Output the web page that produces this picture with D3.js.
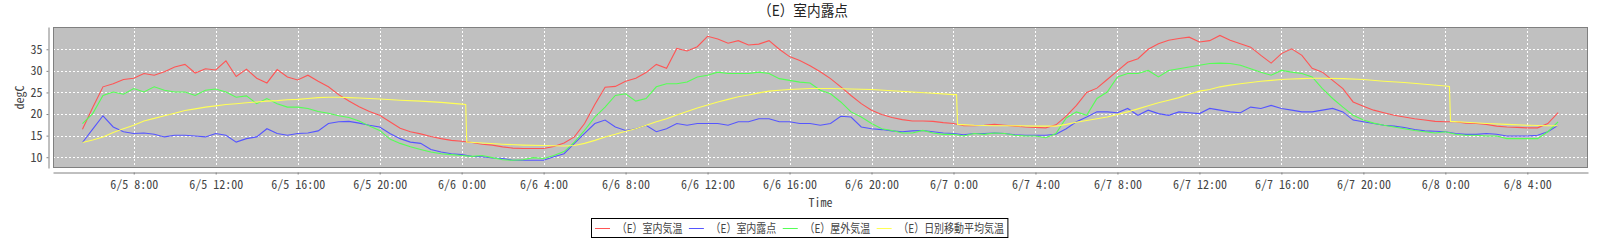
<!DOCTYPE html>
<html lang="ja">
  <head>
    <meta charset="utf-8">
    <title>（E）室内露点</title>
    <style>
      body { margin: 0; background: #fff; }
      .mono { font-family: "Noto Sans Mono CJK JP", "Noto Sans CJK JP", "DejaVu Sans Mono", monospace; }
      .jp { font-family: "Noto Sans CJK JP", sans-serif; }
    </style>
  </head>
  <body>

<!-- load the d3.js library -->
<script src="https://cdn.jsdelivr.net/npm/d3@7"></script>

<script>
// half-hour readings, hours counted from 6/5 0:00 (5.5 = 6/5 5:30 ... 77.5 = 6/8 5:30)
var startHour = 5.5, stepHour = 0.5;

// （E）室内気温
var indoorTemp = [
  16.5, 21.5, 26.3, 27.0, 28.0, 28.3, 29.4, 29.0, 29.8, 30.9, 31.5, 29.5,
  30.5, 30.2, 32.3, 28.7, 30.4, 28.3, 27.2, 30.3, 28.6, 27.9, 29.0, 27.6,
  26.3, 24.5, 23.0, 21.7, 20.6, 19.7, 18.2, 16.7, 15.9, 15.4, 14.8, 14.3,
  13.9, 13.7, 13.4, 13.0, 12.8, 12.4, 12.1, 12.0, 12.0, 12.0, 12.5, 13.3,
  14.7, 17.8, 22.2, 26.2, 26.4, 27.6, 28.3, 29.6, 31.5, 30.6, 35.2, 34.6,
  35.6, 38.0, 37.4, 36.4, 37.0, 36.0, 36.2, 37.0, 35.0, 33.3, 32.4, 31.2,
  29.8, 28.2, 26.3, 24.3, 22.4, 20.9, 19.9, 19.2, 18.7, 18.4, 18.4, 18.3,
  18.0, 17.8, 17.3, 17.3, 17.4, 17.6, 17.4, 17.2, 17.0, 16.9, 16.8, 17.5,
  19.5, 22.0, 25.0, 26.0, 28.0, 30.0, 32.0, 32.8, 35.0, 36.3, 37.1, 37.5,
  37.8, 36.7, 37.0, 38.2, 37.1, 36.3, 35.5, 33.6, 31.8, 34.0, 35.1, 33.6,
  30.6, 29.7, 27.8, 25.9, 22.8, 21.8, 20.9, 20.3, 19.7, 19.3, 18.9, 18.6,
  18.3, 18.2, 18.2, 17.9, 17.8, 17.6, 17.2, 17.0, 16.9, 16.8, 16.8, 17.8,
  20.3
];

// （E）室内露点
var indoorDew = [
  13.4, 16.5, 19.6, 17.0, 15.9, 15.5, 15.6, 15.3, 14.7, 15.1, 15.1, 14.9,
  14.7, 15.5, 15.1, 13.5, 14.3, 14.7, 16.6, 15.5, 15.1, 15.5, 15.6, 16.1,
  17.8, 18.2, 18.3, 17.9, 17.4, 17.0, 15.5, 14.3, 13.5, 13.2, 11.8, 11.2,
  10.8, 10.6, 10.2, 10.1, 9.8, 9.7, 9.3, 9.3, 9.3, 9.3, 10.1, 10.8,
  13.2, 15.5, 17.8, 18.6, 17.0, 16.2, 16.6, 17.4, 15.9, 16.6, 17.8, 17.4,
  17.8, 17.8, 17.8, 17.4, 18.2, 18.2, 18.9, 18.9, 18.2, 18.2, 17.8, 17.8,
  17.4, 17.8, 19.5, 19.3, 17.0, 16.6, 16.4, 16.1, 15.9, 16.1, 16.2, 15.9,
  15.6, 15.5, 15.2, 15.5, 15.5, 15.6, 15.5, 15.2, 15.1, 15.1, 15.1, 15.3,
  16.6, 18.2, 19.3, 20.5, 20.5, 20.3, 21.3, 19.7, 20.9, 20.1, 19.7, 20.5,
  20.3, 20.1, 21.3, 20.9, 20.5, 20.3, 21.6, 21.3, 22.0, 21.3, 20.9, 20.5,
  20.5, 20.9, 21.3, 20.5, 18.6, 18.2, 17.8, 17.4, 17.2, 16.9, 16.4, 16.1,
  16.0, 15.9, 15.5, 15.3, 15.3, 15.5, 15.3, 14.9, 14.9, 14.9, 15.1, 15.9,
  17.4
];

// （E）屋外気温
var outdoorTemp = [
  17.8, 20.1, 24.3, 25.1, 24.6, 25.9, 25.1, 26.3, 25.5, 25.1, 25.1, 24.3,
  25.5, 25.8, 25.1, 23.9, 24.2, 22.4, 23.6, 22.4, 21.6, 21.6, 21.3, 20.6,
  20.2, 19.6, 19.2, 18.4, 17.2, 16.2, 14.2, 13.2, 12.4, 11.8, 11.2, 10.8,
  10.6, 10.4, 10.2, 10.4, 9.9, 9.4, 9.3, 9.4, 9.9, 9.7, 10.4, 11.3,
  13.5, 16.2, 19.3, 21.6, 24.3, 24.7, 23.0, 23.6, 26.3, 27.0, 27.0, 27.4,
  28.6, 29.0, 29.7, 29.4, 29.4, 29.4, 29.7, 29.4, 28.2, 27.8, 27.4, 27.2,
  25.5, 24.7, 22.8, 20.5, 19.3, 17.8, 16.6, 16.2, 15.6, 15.6, 16.2, 15.6,
  15.3, 15.3, 14.9, 15.5, 15.3, 15.6, 15.5, 15.1, 14.9, 14.9, 14.5, 15.5,
  19.1, 20.5, 19.7, 23.6, 25.1, 28.6, 29.4, 29.4, 30.1, 28.6, 30.1, 30.5,
  30.9, 31.3, 31.7, 31.8, 31.7, 31.3, 30.5, 29.7, 29.0, 30.1, 29.7, 29.4,
  28.6, 25.9, 23.6, 21.6, 19.7, 18.6, 17.9, 17.4, 17.0, 16.6, 16.2, 15.9,
  15.6, 15.9, 15.3, 15.1, 15.1, 14.9, 14.9, 14.3, 14.3, 14.3, 14.3, 15.9,
  18.2
];

// （E）日別移動平均気温 (resets just after midnight, so it has its own hours)
var dailyAvgHours = [
  5.5, 6, 6.5, 7, 7.5, 8, 8.5, 9, 9.5, 10, 10.5, 11, 11.5, 12, 12.5, 13, 13.5, 14, 14.5, 15, 15.5, 16, 16.5, 17, 17.5, 18, 18.5, 19, 20, 21, 22, 23, 24, 24.2,
  24.25, 25, 26, 27, 28, 29, 29.5, 30, 30.5, 31, 31.5, 32, 32.5, 33, 33.5, 34, 34.5, 35, 35.5, 36, 36.5, 37, 37.5, 38, 38.5, 39, 39.5, 40, 40.5, 41, 42, 43, 44, 45, 46, 47, 48, 48.15,
  48.2, 49, 50, 51, 52, 53, 53.5, 54, 54.5, 55, 55.5, 56, 56.5, 57, 57.5, 58, 58.5, 59, 59.5, 60, 60.5, 61, 61.5, 62, 62.5, 63, 63.5, 64, 64.5, 65, 65.5, 66, 67, 68, 69, 70, 71, 72, 72.2,
  72.25, 73, 74, 75, 76, 77, 77.5
];
var dailyAvg = [
  13.4, 14.0, 14.7, 15.7, 16.6, 17.4, 18.4, 19.0, 19.6, 20.2, 20.8, 21.2, 21.6, 21.9, 22.2, 22.4, 22.6, 22.8, 23.0, 23.1, 23.3, 23.4, 23.6, 23.8, 23.9, 23.9, 23.8, 23.7, 23.5, 23.2, 23.0, 22.7, 22.3, 22.2,
  13.5, 13.3, 13.0, 12.8, 12.7, 12.6, 12.7, 13.2, 13.9, 14.7, 15.3, 16.0, 16.6, 17.4, 18.2, 18.9, 19.8, 20.6, 21.4, 22.1, 22.8, 23.4, 24.0, 24.4, 24.9, 25.3, 25.5, 25.7, 25.8, 25.9, 25.9, 25.8, 25.7, 25.4, 25.1, 24.8, 24.5, 24.5,
  17.6, 17.4, 17.3, 17.3, 17.2, 17.2, 17.6, 18.1, 18.5, 18.9, 19.3, 19.9, 20.5, 21.2, 21.9, 22.6, 23.2, 23.8, 24.6, 25.3, 25.7, 26.3, 26.7, 27.0, 27.3, 27.6, 27.8, 28.0, 28.1, 28.2, 28.3, 28.3, 28.2, 28.0, 27.6, 27.3, 26.9, 26.5, 26.4,
  18.3, 18.1, 17.8, 17.6, 17.4, 17.3, 17.3
];

var seriesNames = ["（E）室内気温", "（E）室内露点", "（E）屋外気温", "（E）日別移動平均気温"];
var seriesColors = ["#ff5555", "#5555ff", "#55ff55", "#ffff55"];
var yTicks = [10, 15, 20, 25, 30, 35];

var base = new Date(2019, 5, 5, 0, 0);
function hourToDate(h) { return new Date(base.getTime() + h * 3600 * 1000); }

function toPoints(values) {
  return values.map((v, i) => ({ t: hourToDate(startHour + i * stepHour), v: v }));
}

var series = [
  toPoints(indoorTemp),
  toPoints(indoorDew),
  toPoints(outdoorTemp),
  dailyAvg.map((v, i) => ({ t: hourToDate(dailyAvgHours[i]), v: v }))
];

// plot area
var W = 1600, H = 240;
var plot = { left: 53, right: 1588, top: 27, bottom: 168 };

var svg = d3.select('body').append('svg')
  .attr('width', W)
  .attr('height', H);

var x = d3.scaleTime()
  .domain([hourToDate(4.062), hourToDate(78.96)])
  .range([plot.left, plot.right]);

var y = d3.scaleLinear()
  .domain([7.5, 40.16])
  .range([plot.bottom, plot.top]);

// title
svg.append('text')
  .attr('class', 'jp')
  .attr('x', 803)
  .attr('y', 16)
  .attr('text-anchor', 'middle')
  .style('font-size', '15px')
  .attr('fill', '#222')
  .attr('textLength', 90)
  .attr('lengthAdjust', 'spacingAndGlyphs')
  .text("（E）室内露点");

// background
svg.append('rect')
  .attr('x', plot.left)
  .attr('y', plot.top)
  .attr('width', plot.right - plot.left)
  .attr('height', plot.bottom - plot.top)
  .attr('fill', '#c0c0c0');

// grid lines
var xTicks = x.ticks(d3.timeHour.every(4));
svg.append('g').selectAll('line')
  .data(xTicks)
  .enter().append('line')
    .attr('x1', d => Math.round(x(d)) + 0.5)
    .attr('x2', d => Math.round(x(d)) + 0.5)
    .attr('y1', plot.top)
    .attr('y2', plot.bottom)
    .attr('stroke', '#fff')
    .attr('stroke-dasharray', '2,2');

svg.append('g').selectAll('line')
  .data(yTicks)
  .enter().append('line')
    .attr('x1', plot.left)
    .attr('x2', plot.right)
    .attr('y1', d => Math.round(y(d)) + 0.5)
    .attr('y2', d => Math.round(y(d)) + 0.5)
    .attr('stroke', '#fff')
    .attr('stroke-dasharray', '2,2');

// series lines
svg.append('clipPath').attr('id', 'clip')
  .append('rect')
    .attr('x', plot.left)
    .attr('y', plot.top)
    .attr('width', plot.right - plot.left)
    .attr('height', plot.bottom - plot.top);

var line = d3.line()
  .x(d => x(d.t))
  .y(d => y(d.v));

svg.append('g')
  .attr('clip-path', 'url(#clip)')
  .selectAll('path')
  .data(series)
  .enter().append('path')
    .attr('d', line)
    .attr('fill', 'none')
    .attr('stroke', (d, i) => seriesColors[i])
    .attr('stroke-width', 1.1);

// plot outline
svg.append('rect')
  .attr('x', plot.left + 0.5)
  .attr('y', plot.top + 0.5)
  .attr('width', plot.right - plot.left - 1)
  .attr('height', plot.bottom - plot.top - 1)
  .attr('fill', 'none')
  .attr('stroke', '#808080');

// axes
var xAxis = svg.append('g')
  .attr('class', 'mono')
  .attr('transform', 'translate(0,' + (plot.bottom + 4.5) + ')')
  .call(d3.axisBottom(x)
    .tickValues(xTicks)
    .tickSize(2)
    .tickSizeOuter(0)
    .tickPadding(6)
    .tickFormat(d3.timeFormat("%-m/%-d %-H:%M")));

var yAxis = svg.append('g')
  .attr('class', 'mono')
  .attr('transform', 'translate(' + (plot.left - 4.5) + ',0)')
  .call(d3.axisLeft(y)
    .tickValues(yTicks)
    .tickSize(2)
    .tickSizeOuter(0)
    .tickPadding(4));

[xAxis, yAxis].forEach(a => {
  a.selectAll('.domain').attr('stroke', '#808080');
  a.selectAll('.tick line').attr('stroke', '#808080');
  a.selectAll('.tick text')
    .attr('fill', '#444')
    .style('font-size', '12px')
    .style('font-family', null);
});

// axis labels
svg.append('text')
  .attr('class', 'mono')
  .attr('x', (plot.left + plot.right) / 2)
  .attr('y', 207)
  .attr('text-anchor', 'middle')
  .style('font-size', '12px')
  .attr('fill', '#444')
  .text("Time");

svg.append('text')
  .attr('class', 'mono')
  .attr('transform', 'translate(24,' + ((plot.top + plot.bottom) / 2) + ') rotate(-90)')
  .attr('text-anchor', 'middle')
  .style('font-size', '12px')
  .attr('fill', '#444')
  .text("degC");

// legend: texts squeezed a little to the width of the original legend
var legend = svg.append('g');
var texts = seriesNames.map(name => legend.append('text')
  .attr('class', 'jp')
  .attr('y', 232.5)
  .style('font-size', '12px')
  .attr('fill', '#444')
  .text(name));
var widths = texts.map(t => t.node().getComputedTextLength());
var squeeze = 302.6 / d3.sum(widths);
var lx = 595;
texts.forEach((t, i) => {
  legend.append('line')
    .attr('x1', lx).attr('x2', lx + 15)
    .attr('y1', 228.5).attr('y2', 228.5)
    .attr('stroke', seriesColors[i]);
  var w = widths[i] * squeeze;
  t.attr('x', lx + 21.7)
    .attr('textLength', w)
    .attr('lengthAdjust', 'spacingAndGlyphs');
  lx += 21.7 + w + 6.5;
});
legend.insert('rect', ':first-child')
  .attr('x', 591.5)
  .attr('y', 218.5)
  .attr('width', lx - 6.5 + 4 - 591.5)
  .attr('height', 19)
  .attr('fill', '#fff')
  .attr('stroke', '#000');
</script>

  </body>
</html>
